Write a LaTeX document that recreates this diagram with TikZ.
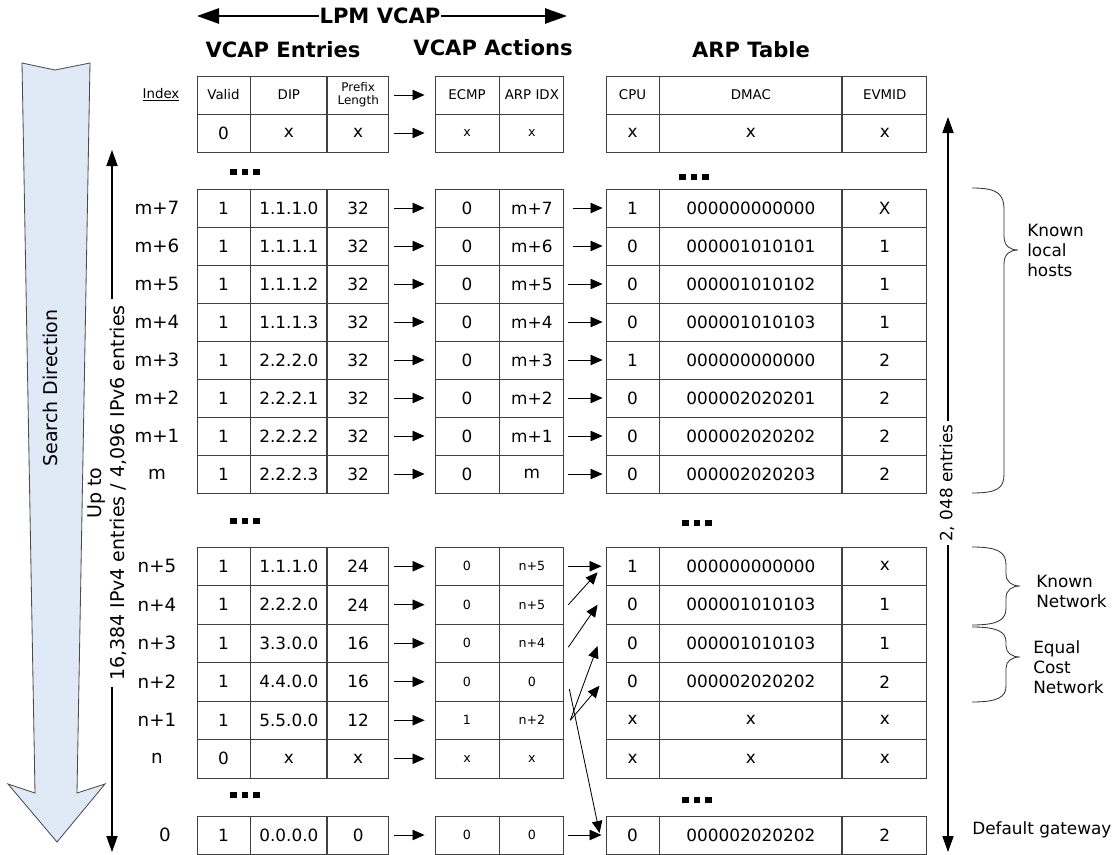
\documentclass[tikz,border=0pt]{standalone}
\usepackage{fontspec}
\setmainfont{DejaVu Sans}
\usetikzlibrary{arrows.meta,positioning}

\definecolor{searchfill}{RGB}{224,233,246}
\newcommand{\sqdots}{\rule{4.8pt}{4.8pt}\hspace{3.6pt}\rule{4.8pt}{4.8pt}\hspace{3.6pt}\rule{4.8pt}{4.8pt}}

\begin{document}
\begin{tikzpicture}[
    x=0.025cm, y=-0.025cm,
    every node/.style={font=\fontsize{12}{14}\selectfont},
    cell/.style={draw=black!75, line width=0.6pt, inner sep=0pt, minimum height=0.95cm},
    nrow/.style={minimum height=0.9625cm},
    wvalid/.style={minimum width=1.325cm},
    wdip/.style={minimum width=1.9cm},
    wpref/.style={minimum width=1.525cm},
    wecmp/.style={minimum width=1.6cm},
    wcpu/.style={minimum width=1.325cm},
    wmac/.style={minimum width=4.55cm},
    wvid/.style={minimum width=2.1cm},
    hdr/.style={font=\fontsize{9.5}{10.5}\selectfont},
    sml/.style={font=\fontsize{9}{11}\selectfont},
    idx/.style={font=\fontsize{13}{15}\selectfont},
    ttl/.style={font=\fontsize{15}{18}\selectfont\bfseries},
    side/.style={font=\fontsize{13.5}{16.5}\selectfont},
    note/.style={font=\fontsize{12}{14.2}\selectfont, align=left, anchor=west, inner sep=0pt},
    flow/.style={-{Triangle[length=3mm,width=2.6mm]}, line width=0.6pt},
    longflow/.style={-{Triangle[length=4mm,width=2.8mm]}, line width=0.8pt},
    bigflow/.style={-{Triangle[length=5.5mm,width=3.8mm]}, line width=1.5pt},
    brace/.style={line width=0.6pt, black!80}
]
\useasboundingbox (0,0) rectangle (1119,855);

% titles
\node[ttl, inner sep=0pt] (lpm) at (380,16) {LPM VCAP};
\coordinate (lpml) at (197,16);
\coordinate (lpmr) at (567,16);
\draw[bigflow] (lpm.west) -- (lpml);
\draw[bigflow] (lpm.east) -- (lpmr);
\node[ttl] (tent) at (283,50) {VCAP Entries};
\node[ttl] (tact) at (493,48) {VCAP Actions};
\node[ttl] (tarp) at (751,50) {ARP Table};

% search direction
\draw[black!70, fill=searchfill, line width=0.6pt] (22,63) -- (55,70) -- (90,63) -- (77,793) -- (105,784)
    -- (57,842) -- (8,784) -- (35,793) -- cycle;
\node[side, rotate=90] (search) at (50,388) {Search Direction};

% table size arrows
\node[side, rotate=90, align=center, inner sep=4pt] (uplbl) at (107,493) {Up to\\16,384 IPv4 entries / 4,096 IPv6 entries};
\coordinate (uptop) at (112,150);
\coordinate (upbot) at (112,852);
\draw[longflow] (uplbl.east -| uptop) -- (uptop);
\draw[longflow] (uplbl.west -| upbot) -- (upbot);
\node[rotate=90, inner sep=2pt] (arplbl) at (947,483) {2, 048 entries};
\coordinate (arptop) at (948,117);
\coordinate (arpbot) at (948,852);
\draw[longflow] (arplbl.east -| arptop) -- (arptop);
\draw[longflow] (arplbl.west -| arpbot) -- (arpbot);

% header row
\node[hdr] (hi) at (161,95) {\underline{Index}};
\node[cell, wvalid, hdr] (hv) at (223.5,95) {Valid};
\node[cell, wdip, hdr, right=0pt of hv] (hd) {DIP};
\node[cell, wpref, right=0pt of hd, align=center, font=\fontsize{8.5}{9.5}\selectfont] (hp) {Prefix\\Length};
\node[cell, wecmp, hdr] (he) at (467,95) {ECMP};
\node[cell, wecmp, hdr, right=0pt of he] (ha) {ARP IDX};
\node[cell, wcpu, hdr] (hc) at (632.5,95) {CPU};
\node[cell, wmac, hdr, right=0pt of hc] (hm) {DMAC};
\node[cell, wvid, hdr, right=0pt of hm] (hx) {EVMID};
\draw[flow, shorten <=0.125cm, shorten >=0.25cm] (hp) -- (he);

% row 0
\node[cell, wvalid] (rv) at (223.5,133) {0};
\node[cell, wdip, right=0pt of rv] (rd) {x};
\node[cell, wpref, right=0pt of rd] (rp) {x};
\node[cell, wecmp, sml] (re) at (467,133) {x};
\node[cell, wecmp, sml, right=0pt of re] (ra) {x};
\node[cell, wcpu] (rc) at (632.5,133) {x};
\node[cell, wmac, right=0pt of rc] (rm) {x};
\node[cell, wvid, right=0pt of rm] (rx) {x};
\draw[flow, shorten <=0.125cm, shorten >=0.25cm] (rp) -- (re);

\node (dotsa) at (245,172) {\sqdots};
\node (dotsb) at (694,177) {\sqdots};

% known local hosts
\foreach \ix/\dip/\act/\cpu/\mac/\vid/\sa [count=\k from 0] in {
    m+7/1.1.1.0/m+7/1/000000000000/X/0.225,
    m+6/1.1.1.1/m+6/0/000001010101/1/0.225,
    m+5/1.1.1.2/m+5/0/000001010102/1/0.1,
    m+4/1.1.1.3/m+4/0/000001010103/1/0.1,
    m+3/2.2.2.0/m+3/1/000000000000/2/0.1,
    m+2/2.2.2.1/m+2/0/000002020201/2/0.1,
    m+1/2.2.2.2/m+1/0/000002020202/2/0.1,
    m/2.2.2.3/m/0/000002020203/2/0.1}{
  \node[idx] (mi\k) at (157,{208+38*\k}) {\ix};
  \node[cell, wvalid] (mv\k) at (223.5,{208+38*\k}) {1};
  \node[cell, wdip, right=0pt of mv\k] (md\k) {\dip};
  \node[cell, wpref, right=0pt of md\k] (mp\k) {32};
  \node[cell, wecmp] (me\k) at (467,{208+38*\k}) {0};
  \node[cell, wecmp, right=0pt of me\k] (ma\k) {\act};
  \node[cell, wcpu] (mc\k) at (632.5,{208+38*\k}) {\cpu};
  \node[cell, wmac, right=0pt of mc\k] (mm\k) {\mac};
  \node[cell, wvid, right=0pt of mm\k] (mx\k) {\vid};
  \draw[flow, shorten <=0.125cm, shorten >=0.25cm] (mp\k) -- (me\k);
  \draw[flow, shorten <=\sa cm, shorten >=0.075cm] (ma\k) -- (mc\k);
}

\node (dotsc) at (245,521) {\sqdots};
\node (dotsd) at (697,523) {\sqdots};

% networks
\foreach \ix/\va/\dip/\pl/\ec/\ai/\cpu/\mac/\vid [count=\k from 0] in {
    n+5/1/1.1.1.0/24/0/n+5/1/000000000000/x,
    n+4/1/2.2.2.0/24/0/n+5/0/000001010103/1,
    n+3/1/3.3.0.0/16/0/n+4/0/000001010103/1,
    n+2/1/4.4.0.0/16/0/0/0/000002020202/2,
    n+1/1/5.5.0.0/12/1/n+2/x/x/x,
    n/0/x/x/x/x/x/x/x}{
  \node[idx] (ni\k) at (157,{566.25+38.5*\k}) {\ix};
  \node[cell, nrow, wvalid] (nv\k) at (223.5,{566.25+38.5*\k}) {\va};
  \node[cell, nrow, wdip, right=0pt of nv\k] (nd\k) {\dip};
  \node[cell, nrow, wpref, right=0pt of nd\k] (np\k) {\pl};
  \node[cell, nrow, wecmp, sml] (ne\k) at (467,{566.25+38.5*\k}) {\ec};
  \node[cell, nrow, wecmp, sml, right=0pt of ne\k] (na\k) {\ai};
  \node[cell, nrow, wcpu] (nc\k) at (632.5,{566.25+38.5*\k}) {\cpu};
  \node[cell, nrow, wmac, right=0pt of nc\k] (nm\k) {\mac};
  \node[cell, nrow, wvid, right=0pt of nm\k] (nx\k) {\vid};
  \draw[flow, shorten <=0.125cm, shorten >=0.25cm] (np\k) -- (ne\k);
}

\node (dotse) at (245,795) {\sqdots};
\node (dotsf) at (697,800) {\sqdots};

% default gateway
\node[idx] (zi) at (165,835) {0};
\node[cell, wvalid] (zv) at (223.5,835) {1};
\node[cell, wdip, right=0pt of zv] (zd) {0.0.0.0};
\node[cell, wpref, right=0pt of zd] (zp) {0};
\node[cell, wecmp, sml] (ze) at (467,835) {0};
\node[cell, wecmp, sml, right=0pt of ze] (za) {0};
\node[cell, wcpu] (zc) at (632.5,835) {0};
\node[cell, wmac, right=0pt of zc] (zm) {000002020202};
\node[cell, wvid, right=0pt of zm] (zx) {2};
\draw[flow, shorten <=0.125cm, shorten >=0.25cm] (zp) -- (ze);

% actions to arp
\draw[flow, shorten <=0.1cm, shorten >=0.1cm] (na0) -- (nc0);
\draw[flow] ([xshift=0.1cm]na1.east) -- ([xshift=-0.2cm,yshift=-0.15cm]nc0.west);
\draw[flow] ([xshift=0.1cm,yshift=-0.1cm]na2.east) -- ([xshift=-0.2cm]nc1.west);
\draw[flow] ([xshift=0.15cm]na4.east) -- ([xshift=-0.2cm,yshift=-0.07cm]nc2.west);
\draw[flow] ([xshift=0.15cm]na4.east) -- ([xshift=-0.15cm,yshift=-0.1cm]nc3.west);
\draw[flow] ([xshift=0.125cm,yshift=-0.18cm]na3.east) -- ([xshift=-0.15cm,yshift=0.05cm]zc.west);
\draw[flow, shorten <=0.1cm, shorten >=0.1cm] (za) -- (zc);

% braces
\draw[brace] (972,188) .. controls (998,188) and (1004,194) .. (1004,210) -- (1004,236)
    .. controls (1004,246) and (1010,250) .. (1018,250) .. controls (1010,250) and (1004,254) .. (1004,264)
    -- (1004,474) .. controls (1004,488) and (998,493) .. (972,493);
\draw[brace] (972,547) .. controls (998,547) and (1006,552) .. (1006,565) -- (1006,574)
    .. controls (1006,582) and (1012,586) .. (1020,586) .. controls (1012,586) and (1006,590) .. (1006,598)
    -- (1006,608) .. controls (1006,620) and (998,625) .. (972,625);
\draw[brace] (972,627) .. controls (998,627) and (1006,632) .. (1006,642) -- (1006,646)
    .. controls (1006,653) and (1012,657) .. (1020,657) .. controls (1012,657) and (1006,661) .. (1006,668)
    -- (1006,686) .. controls (1006,697) and (998,702) .. (972,702);
\node[note] (hosts) at (1027,250) {Known\\local\\hosts};
\node[note] (knet) at (1036,591) {Known\\Network};
\node[note] (eqnet) at (1033,667) {Equal\\Cost\\Network};
\node[note] (gw) at (972,830) {Default gateway};
\end{tikzpicture}
\end{document}
